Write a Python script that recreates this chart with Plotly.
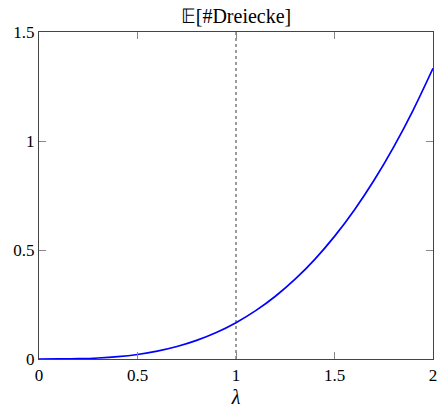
import plotly.graph_objects as go

lam = [0.0, 0.1, 0.2, 0.3, 0.4, 0.5, 0.6, 0.7, 0.8, 0.9, 1.0,
       1.1, 1.2, 1.3, 1.4, 1.5, 1.6, 1.7, 1.8, 1.9, 2.0]
expected = [0.0, 0.0002, 0.0013, 0.0045, 0.0107, 0.0208, 0.036, 0.0572, 0.0853, 0.1215, 0.1667,
            0.2218, 0.288, 0.3662, 0.4573, 0.5625, 0.6827, 0.8188, 0.972, 1.1432, 1.3333]
marker_x = [1.0, 1.0]
marker_y = [0.0, 1.5]
xticks = [0, 0.5, 1, 1.5, 2]
xticklabels = ["0", "0.5", "1", "1.5", "2"]
yticks = [0, 0.5, 1, 1.5]
yticklabels = ["0", "0.5", "1", "1.5"]

FONT = "Liberation Serif"

fig = go.Figure()
fig.add_trace(go.Scatter(x=marker_x, y=marker_y, mode="lines",
                         line=dict(color="#222222", width=0.9, dash="dot"),
                         showlegend=False, hoverinfo="skip"))
fig.add_trace(go.Scatter(x=lam, y=expected, mode="lines", line_shape="spline",
                         line=dict(color="#0000ff", width=1.7),
                         showlegend=False))

axis_common = dict(showgrid=False, zeroline=False, showline=True, linecolor="#444444",
                   linewidth=1.2, mirror="ticks", ticks="inside", ticklen=7,
                   tickcolor="#888888", tickwidth=1, automargin=False,
                   tickfont=dict(family=FONT, size=17, color="black"))

fig.update_xaxes(range=[0, 2], tickvals=xticks, ticktext=xticklabels,
                 title=dict(text="<i>λ</i>", font=dict(family=FONT, size=20, color="black"),
                            standoff=6),
                 **axis_common)
fig.update_yaxes(range=[0, 1.5], tickvals=yticks, ticktext=yticklabels, **axis_common)

fig.update_layout(
    width=445, height=411,
    margin=dict(l=39, r=12, t=32, b=52, autoexpand=False),
    paper_bgcolor="white", plot_bgcolor="white",
    title=dict(text="𝔼[#Dreiecke]", x=0.5, xref="paper", xanchor="center",
               y=0.961, yref="container", yanchor="middle",
               font=dict(family=FONT, size=20, color="black")),
    font=dict(family=FONT, color="black"),
)

fig.write_html("out.html", config={"displayModeBar": False},
               post_script="document.body.style.margin='0';document.body.style.overflow='hidden';")
